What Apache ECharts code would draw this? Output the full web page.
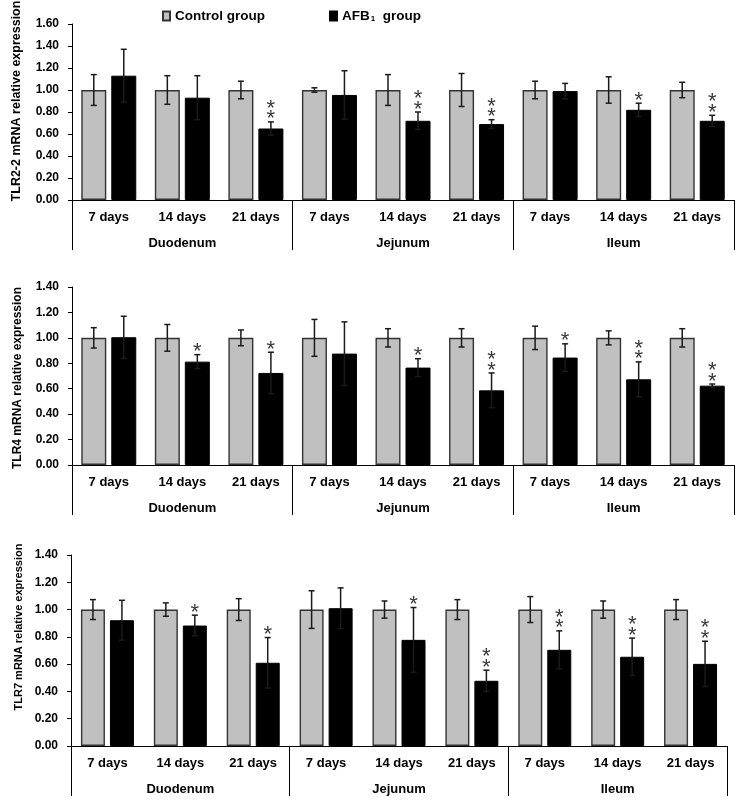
<!DOCTYPE html>
<html><head><meta charset="utf-8">
<script src="https://cdn.jsdelivr.net/npm/echarts@6/dist/echarts.min.js"></script>
<style>html,body{margin:0;padding:0;background:#fff}#c{width:742px;height:808px}</style>
</head><body><div id="c"></div>
<script>
// ---- data ----
const days = ['7 days','14 days','21 days','7 days','14 days','21 days','7 days','14 days','21 days'];
const segments = ['Duodenum','Jejunum','Ileum'];

const tlr2Control    = [1, 1, 1, 1, 1, 1, 1, 1, 1];
const tlr2ControlErr = [0.14, 0.13, 0.08, 0.02, 0.14, 0.15, 0.08, 0.12, 0.07];
const tlr2Afb        = [1.13, 0.93, 0.65, 0.955, 0.72, 0.69, 0.99, 0.82, 0.72];
const tlr2AfbErr     = [0.24, 0.20, 0.06, 0.22, 0.08, 0.04, 0.07, 0.06, 0.05];
const tlr2Sig        = ['', '', '**', '', '**', '**', '', '*', '**'];

const tlr4Control    = [1, 1, 1, 1, 1, 1, 1, 1, 1];
const tlr4ControlErr = [0.08, 0.105, 0.062, 0.145, 0.072, 0.072, 0.092, 0.055, 0.072];
const tlr4Afb        = [1.005, 0.813, 0.724, 0.876, 0.766, 0.587, 0.845, 0.674, 0.624];
const tlr4AfbErr     = [0.165, 0.055, 0.163, 0.25, 0.07, 0.137, 0.108, 0.137, 0.013];
const tlr4Sig        = ['', '*', '*', '', '*', '**', '*', '**', '**'];

const tlr7Control    = [1, 1, 1, 1, 1, 1, 1, 1, 1];
const tlr7ControlErr = [0.073, 0.049, 0.08, 0.138, 0.063, 0.073, 0.095, 0.063, 0.073];
const tlr7Afb        = [0.922, 0.883, 0.61, 1.01, 0.778, 0.478, 0.705, 0.654, 0.602];
const tlr7AfbErr     = [0.146, 0.076, 0.185, 0.149, 0.237, 0.078, 0.139, 0.137, 0.166];
const tlr7Sig        = ['', '*', '*', '', '*', '**', '**', '**', '**'];

const yMax = [1.6, 1.4, 1.4];
const yTitles = ['TLR2-2 mRNA relative expression', 'TLR4 mRNA relative expression', 'TLR7 mRNA relative expression'];

// ---- layout / style ----
const FONT = '"Liberation Sans", Arial, sans-serif';
const panels = [
  {ctrl: tlr2Control, ctrlErr: tlr2ControlErr, afb: tlr2Afb, afbErr: tlr2AfbErr, sig: tlr2Sig,
   grid: {left: 72, right: 8, top: 24, height: 176}, barW: 25, gap: 5, tFont: 12.5, tx: 17, ty: 101},
  {ctrl: tlr4Control, ctrlErr: tlr4ControlErr, afb: tlr4Afb, afbErr: tlr4AfbErr, sig: tlr4Sig,
   grid: {left: 72, right: 8, top: 287, height: 178}, barW: 25, gap: 5, tFont: 12, tx: 18, ty: 378},
  {ctrl: tlr7Control, ctrlErr: tlr7ControlErr, afb: tlr7Afb, afbErr: tlr7AfbErr, sig: tlr7Sig,
   grid: {left: 71, right: 15, top: 555, height: 191}, barW: 24, gap: 5, tFont: 11, tx: 19, ty: 627}
];

function errRender(sign, barW, gap, sigArr) {
  return function (params, api) {
    const i = api.value(0), v = api.value(1), e = api.value(2);
    const c = api.coord([i, v]);
    const x = c[0] + sign * (barW + gap) / 2;
    const top = api.coord([i, v + e])[1];
    const bot = api.coord([i, v - e])[1];
    const ls = {stroke: '#1a1a1a', lineWidth: 1.5};
    const children = [
      {type: 'line', shape: {x1: x, y1: top, x2: x, y2: bot}, style: ls},
      {type: 'line', shape: {x1: x - 3, y1: top, x2: x + 3, y2: top}, style: ls},
      {type: 'line', shape: {x1: x - 3, y1: bot, x2: x + 3, y2: bot}, style: ls}
    ];
    const s = sigArr ? sigArr[params.dataIndex] : '';
    for (let j = 0; j < s.length; j++) {
      const cy = top - 8 - j * 10.5;
      children.push({type: 'text', x: x, y: cy + 5.5,
        style: {text: '*', font: '22px ' + FONT, fill: '#3a3a3a',
                align: 'center', verticalAlign: 'middle',
                textAlign: 'center', textVerticalAlign: 'middle'}});
    }
    return {type: 'group', children: children};
  };
}

const grid = [], xAxis = [], yAxis = [], series = [], graphic = [];
panels.forEach((p, k) => {
  grid.push(p.grid);
  xAxis.push({
    type: 'category', gridIndex: k, data: days, position: 'bottom',
    axisLine: {lineStyle: {color: '#000', width: 1}}, axisTick: {show: false},
    axisLabel: {interval: 0, margin: 11, color: '#000', fontWeight: 'bold', fontSize: 13, fontFamily: FONT}
  });
  xAxis.push({
    type: 'category', gridIndex: k, data: segments, position: 'bottom',
    axisLine: {show: false},
    axisTick: {show: true, length: 50, lineStyle: {color: '#000', width: 1}},
    axisLabel: {interval: 0, margin: 37, color: '#000', fontWeight: 'bold', fontSize: 13, fontFamily: FONT}
  });
  yAxis.push({
    type: 'value', gridIndex: k, min: 0, max: yMax[k], interval: 0.2,
    splitLine: {show: false},
    axisLine: {show: true, lineStyle: {color: '#000', width: 1}},
    axisTick: {show: true, length: 4, lineStyle: {color: '#000'}},
    axisLabel: {margin: 13, color: '#000', fontWeight: 'bold', fontSize: 12, fontFamily: FONT,
                formatter: v => v.toFixed(2)}
  });
  series.push({
    name: 'Control group', type: 'bar', xAxisIndex: 2 * k, yAxisIndex: k,
    barWidth: p.barW, barGap: (p.gap / p.barW * 100) + '%', data: p.ctrl,
    itemStyle: {color: '#C0C0C0', borderColor: '#333', borderWidth: 1.4}
  });
  series.push({
    name: 'AFB1 group', type: 'bar', xAxisIndex: 2 * k, yAxisIndex: k,
    barWidth: p.barW, barGap: (p.gap / p.barW * 100) + '%', data: p.afb,
    itemStyle: {color: '#000', borderColor: '#000', borderWidth: 1}
  });
  series.push({
    type: 'custom', xAxisIndex: 2 * k, yAxisIndex: k, z: 5, clip: false,
    renderItem: errRender(-1, p.barW, p.gap, null),
    encode: {x: 0, y: 1},
    data: p.ctrl.map((v, i) => [i, v, p.ctrlErr[i]])
  });
  series.push({
    type: 'custom', xAxisIndex: 2 * k, yAxisIndex: k, z: 5, clip: false,
    renderItem: errRender(1, p.barW, p.gap, p.sig),
    encode: {x: 0, y: 1},
    data: p.afb.map((v, i) => [i, v, p.afbErr[i]])
  });
  graphic.push({
    type: 'text', x: p.tx, y: p.ty, rotation: Math.PI / 2,
    style: {text: yTitles[k], font: 'bold ' + p.tFont + 'px ' + FONT, fill: '#000',
            align: 'center', verticalAlign: 'middle', textAlign: 'center', textVerticalAlign: 'middle'}
  });
});

const chart = echarts.init(document.getElementById('c'), null, {renderer: 'canvas'});
chart.setOption({
  animation: false,
  backgroundColor: '#fff',
  legend: {
    left: 162, top: 9, padding: 0, itemWidth: 7, itemHeight: 9, itemGap: 64, icon: 'rect',
    data: ['Control group', 'AFB1 group'],
    formatter: n => n === 'AFB1 group' ? '{b|AFB}{s|1}{b|  group}' : '{b|Control group}',
    textStyle: {
      rich: {
        b: {fontFamily: FONT, fontWeight: 'bold', fontSize: 13.5, color: '#000'},
        s: {fontFamily: FONT, fontWeight: 'bold', fontSize: 8, color: '#000', verticalAlign: 'bottom', padding: [6, 0, 0, 1]}
      }
    }
  },
  grid, xAxis, yAxis, series, graphic
});
</script></body></html>
